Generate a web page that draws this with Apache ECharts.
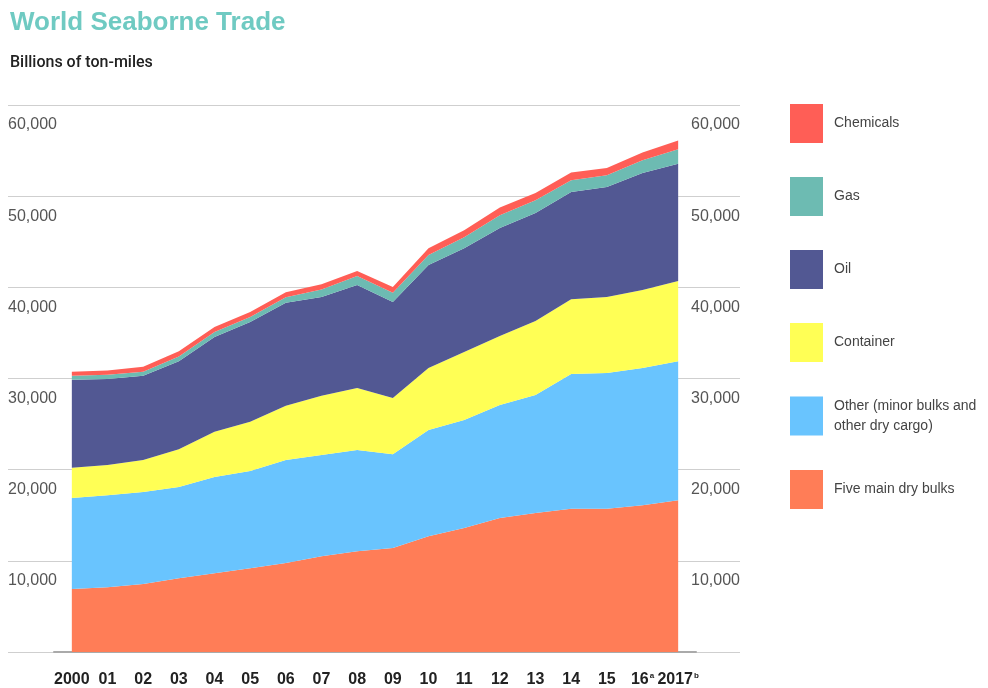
<!DOCTYPE html>
<html>
<head>
<meta charset="utf-8">
<script src="https://cdn.jsdelivr.net/npm/echarts@6/dist/echarts.min.js"></script>
<style>
  html, body { margin: 0; padding: 0; background: #fff; }
  #main { width: 988px; height: 688px; }
</style>
</head>
<body>
<div id="main"></div>
<script>
// years on the x axis
var years = ['2000', '01', '02', '03', '04', '05', '06', '07', '08', '09',
  '10', '11', '12', '13', '14', '15', '16', '2017'];
var yTicks = [0, 10000, 20000, 30000, 40000, 50000, 60000];

// billions of ton-miles (bottom layer first)
var fiveMainDryBulks = [6900, 7100, 7450, 8100, 8650, 9200, 9750, 10500, 11050, 11400,
  12700, 13600, 14700, 15250, 15700, 15700, 16100, 16650];
var otherDry = [10000, 10100, 10100, 10000, 10550, 10650, 11300, 11100, 11100, 10300,
  11650, 11850, 12400, 12950, 14800, 14900, 15050, 15250];
var container = [3300, 3300, 3500, 4150, 4950, 5400, 5950, 6500, 6800, 6150,
  6800, 7450, 7550, 8100, 8200, 8350, 8550, 8800];
var oil = [9650, 9450, 9250, 9650, 10400, 10950, 11300, 10850, 11300, 10550,
  11300, 11400, 11850, 11850, 11750, 12050, 12850, 12850];
var gas = [450, 450, 450, 500, 550, 550, 600, 800, 1000, 1000,
  1100, 1200, 1400, 1400, 1300, 1300, 1400, 1600];
var chemicals = [450, 480, 550, 600, 550, 550, 550, 600, 550, 650,
  750, 750, 850, 800, 850, 800, 850, 950];

var otherName = 'Other (minor bulks and\nother dry cargo)';

function layer(name, data, color) {
  return {
    name: name,
    type: 'line',
    xAxisIndex: 0,
    yAxisIndex: 2,
    stack: 'total',
    data: data,
    color: color,
    symbol: 'none',
    lineStyle: { width: 0 },
    areaStyle: { color: color, opacity: 1 },
  };
}

var myChart = echarts.init(document.getElementById('main'));

var option = {
  animation: false,
  title: [
    {
      text: 'World Seaborne Trade',
      left: 10,
      top: 10,
      padding: 0,
      textStyle: { fontFamily: 'Liberation Sans', fontSize: 26, fontWeight: 'bold', color: '#6fcac2' },
    },
    {
      text: 'Billions of ton-miles',
      left: 10,
      top: 55,
      padding: 0,
      textStyle: { fontFamily: 'Roboto', fontSize: 16, fontWeight: 500, color: '#222' },
    },
  ],
  legend: {
    orient: 'vertical',
    left: 790,
    top: 104,
    padding: 0,
    icon: 'rect',
    itemWidth: 33,
    itemHeight: 39,
    itemGap: 34,
    selectedMode: false,
    data: ['Chemicals', 'Gas', 'Oil', 'Container', otherName, 'Five main dry bulks'],
    textStyle: {
      fontFamily: 'Liberation Sans',
      fontSize: 14,
      lineHeight: 20,
      color: '#444',
      padding: [0, 0, 0, 6],
    },
  },
  grid: [
    // full-width grid for gridlines and both value scales
    { left: 8, right: 248, top: 105, bottom: 36 },
    // data grid, one band per year
    { left: 54, right: 292, top: 105, bottom: 36 },
  ],
  xAxis: [
    {
      type: 'category',
      gridIndex: 1,
      data: years,
      boundaryGap: true,
      axisLine: { show: true, lineStyle: { color: '#aaa', width: 2 } },
      axisTick: { show: false },
      axisLabel: {
        interval: 0,
        margin: 20,
        fontFamily: 'Liberation Sans',
        fontSize: 16,
        fontWeight: 'bold',
        color: '#222',
        formatter: function (v) {
          if (v === '16') return '16{sup|a}';
          if (v === '2017') return '2017{sup|b}';
          return v;
        },
        rich: {
          sup: { fontSize: 8, fontWeight: 'bold', color: '#222', verticalAlign: 'top', lineHeight: 12, padding: [0, 0, 0, 1] },
        },
      },
    },
    { type: 'category', gridIndex: 0, show: false, data: years },
  ],
  yAxis: [
    {
      type: 'value',
      gridIndex: 0,
      min: yTicks[0],
      max: yTicks[yTicks.length - 1],
      interval: 10000,
      position: 'left',
      axisLine: { show: false },
      axisTick: { show: false },
      splitLine: { show: true, lineStyle: { color: '#cfcfcf', width: 1 } },
      axisLabel: {
        inside: true,
        margin: 0,
        align: 'left',
        verticalAlign: 'top',
        padding: [12, 0, 0, 0],
        fontFamily: 'Liberation Sans',
        fontSize: 16,
        color: '#555',
        formatter: function (v) {
          return v === 0 ? '' : v.toLocaleString('en-US');
        },
      },
    },
    {
      type: 'value',
      gridIndex: 0,
      min: yTicks[0],
      max: yTicks[yTicks.length - 1],
      interval: 10000,
      position: 'right',
      axisLine: { show: false },
      axisTick: { show: false },
      splitLine: { show: false },
      axisLabel: {
        inside: true,
        margin: 0,
        align: 'right',
        verticalAlign: 'top',
        padding: [12, 0, 0, 0],
        fontFamily: 'Liberation Sans',
        fontSize: 16,
        color: '#555',
        formatter: function (v) {
          return v === 0 ? '' : v.toLocaleString('en-US');
        },
      },
    },
    {
      type: 'value',
      gridIndex: 1,
      min: yTicks[0],
      max: yTicks[yTicks.length - 1],
      show: false,
      splitLine: { show: false },
    },
  ],
  series: [
    layer('Five main dry bulks', fiveMainDryBulks, '#ff7d57'),
    layer(otherName, otherDry, '#69c4fe'),
    layer('Container', container, '#ffff55'),
    layer('Oil', oil, '#525893'),
    layer('Gas', gas, '#6dbbb2'),
    layer('Chemicals', chemicals, '#ff5e56'),
  ],
};

myChart.setOption(option);
</script>
</body>
</html>
